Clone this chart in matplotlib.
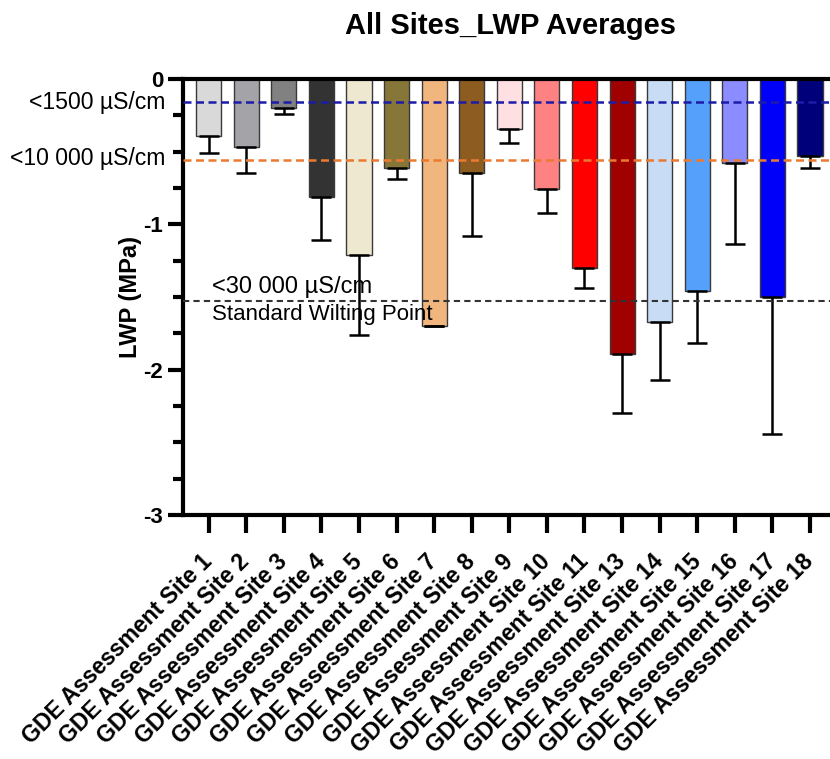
import numpy as np
import matplotlib
matplotlib.use("Agg")
import matplotlib.pyplot as plt
from matplotlib.ticker import MultipleLocator

plt.rcParams['font.family'] = ['Liberation Sans', 'DejaVu Sans']

sites = ["1", "2", "3", "4", "5", "6", "7", "8", "9", "10",
         "11", "13", "14", "15", "16", "17", "18"]
labels = ["GDE Assessment Site " + s for s in sites]
lwp_mean = [-0.39, -0.47, -0.20, -0.81, -1.21, -0.61, -1.70, -0.65, -0.345,
            -0.76, -1.30, -1.895, -1.67, -1.46, -0.58, -1.50, -0.53]
lwp_sd = [0.12, 0.18, 0.04, 0.30, 0.55, 0.08, 0.0, 0.43, 0.095,
          0.165, 0.14, 0.405, 0.40, 0.36, 0.555, 0.945, 0.08]
bar_colors = ["#d9d9d9", "#a3a3a8", "#818181", "#333333", "#ede8cf", "#867738",
              "#f0b67e", "#8c5c20", "#ffe0e2", "#ff8282", "#ff0000", "#a00000",
              "#c8ddf5", "#55a0fa", "#8a8cff", "#0000fa", "#00007a"]

thresholds = [-0.16, -0.56, -1.53]
threshold_colors = ["#1c1ca8", "#ea7a30", "#333333"]

fig = plt.figure(figsize=(8.3, 7.59), dpi=100)
ax = fig.add_axes([0.220, 0.3215, 0.78, 0.5745])

x = np.arange(len(sites))
ax.bar(x, lwp_mean, width=0.67, color=bar_colors, edgecolor="#3a3a3a",
       linewidth=1.0, zorder=2)
ax.errorbar(x, lwp_mean, yerr=[lwp_sd, np.zeros(len(sites))], fmt="none",
            ecolor="black", elinewidth=1.8, capsize=7, capthick=1.8, zorder=3)

ax.axhline(thresholds[0], color=threshold_colors[0], linestyle=(0, (3.2, 1.8)),
           linewidth=1.8, zorder=4)
ax.axhline(thresholds[1], color=threshold_colors[1], linestyle=(0, (3.2, 1.8)),
           linewidth=1.8, zorder=4)
ax.axhline(thresholds[2], color=threshold_colors[2], linestyle=(0, (3, 2)),
           linewidth=1.5, zorder=4)

ax.set_ylim(-3, 0)
ax.set_xlim(-0.69, 16.53)
ax.yaxis.set_minor_locator(MultipleLocator(0.25))
ax.set_yticks([0, -1, -2, -3])
ax.set_yticklabels(["0", "-1", "-2", "-3"], fontsize=16, fontweight="bold")
ax.tick_params(axis="y", which="major", length=11, width=3, pad=3)
ax.tick_params(axis="y", which="minor", length=7, width=3)

ax.set_xticks(x)
ax.set_xticklabels(labels, rotation=45, ha="right", va="center",
                   rotation_mode="anchor", fontsize=16.6, fontweight="bold")
ax.tick_params(axis="x", which="major", length=13, width=3, pad=18)

for s in ["left", "top", "bottom"]:
    ax.spines[s].set_linewidth(3)
ax.spines["right"].set_visible(False)

ax.set_ylabel("LWP (MPa)", fontsize=17, fontweight="bold", labelpad=1)

# threshold annotations
ax.text(-1.16, thresholds[0], "<1500 µS/cm", fontsize=16.6, ha="right",
        va="center", clip_on=False, zorder=5)
ax.text(-1.16, thresholds[1] + 0.01, "<10 000 µS/cm", fontsize=16.6, ha="right",
        va="center", clip_on=False, zorder=5)
ax.text(0.09, thresholds[2] + 0.10, "<30 000 µS/cm", fontsize=17, ha="left",
        va="center", zorder=5)
ax.text(0.09, thresholds[2] - 0.09, "Standard Wilting Point", fontsize=16,
        ha="left", va="center", zorder=5)

fig.text(0.615, 0.966, "All Sites_LWP Averages", fontsize=21, fontweight="bold",
         ha="center", va="center")

fig.savefig("out.png", dpi=100)
